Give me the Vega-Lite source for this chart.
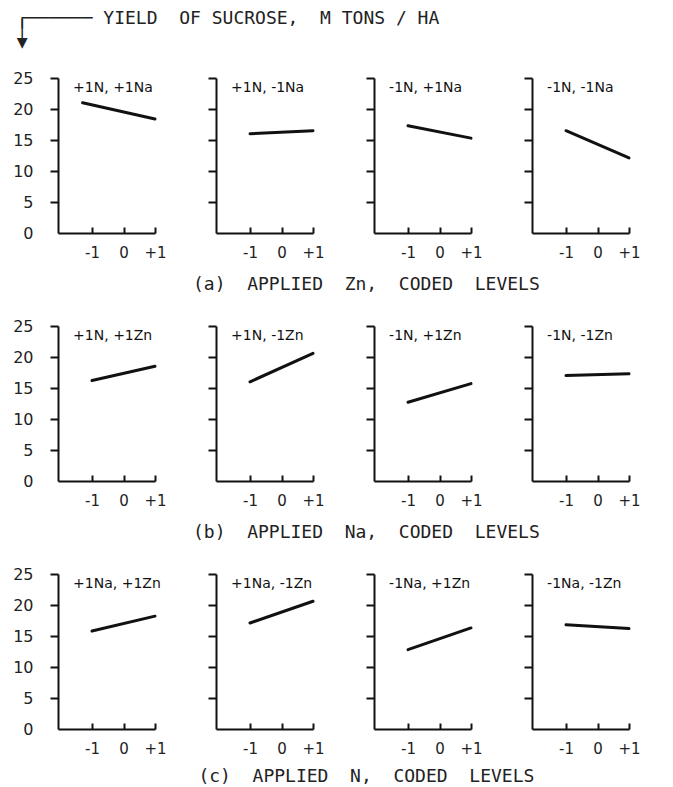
{
  "$schema": "https://vega.github.io/schema/vega-lite/v6.json",
  "padding": {"left": 12, "top": 10, "right": 5, "bottom": 5},
  "background": "white",
  "title": {
    "text": ["┌──────  YIELD\u00a0 OF SUCROSE,\u00a0 M TONS / HA", "│", "▼"],
    "anchor": "start",
    "fontSize": 18,
    "fontWeight": "normal",
    "font": "DejaVu Sans Mono",
    "color": "#222",
    "lineHeight": 12,
    "dx": 4,
    "offset": 18
  },
  "data": {
    "values": [
      {"row": "a", "col": 1, "label": "+1N, +1Na", "x": -1.3, "y": 21.0},
      {"row": "a", "col": 1, "label": "+1N, +1Na", "x": 1, "y": 18.4},
      {"row": "a", "col": 2, "label": "+1N, -1Na", "x": -1, "y": 16.0},
      {"row": "a", "col": 2, "label": "+1N, -1Na", "x": 1, "y": 16.5},
      {"row": "a", "col": 3, "label": "-1N, +1Na", "x": -1, "y": 17.3},
      {"row": "a", "col": 3, "label": "-1N, +1Na", "x": 1, "y": 15.3},
      {"row": "a", "col": 4, "label": "-1N, -1Na", "x": -1, "y": 16.5},
      {"row": "a", "col": 4, "label": "-1N, -1Na", "x": 1, "y": 12.1},
      {"row": "b", "col": 1, "label": "+1N, +1Zn", "x": -1, "y": 16.2},
      {"row": "b", "col": 1, "label": "+1N, +1Zn", "x": 1, "y": 18.5},
      {"row": "b", "col": 2, "label": "+1N, -1Zn", "x": -1, "y": 16.0},
      {"row": "b", "col": 2, "label": "+1N, -1Zn", "x": 1, "y": 20.6},
      {"row": "b", "col": 3, "label": "-1N, +1Zn", "x": -1, "y": 12.7},
      {"row": "b", "col": 3, "label": "-1N, +1Zn", "x": 1, "y": 15.7},
      {"row": "b", "col": 4, "label": "-1N, -1Zn", "x": -1, "y": 17.0},
      {"row": "b", "col": 4, "label": "-1N, -1Zn", "x": 1, "y": 17.3},
      {"row": "c", "col": 1, "label": "+1Na, +1Zn", "x": -1, "y": 15.8},
      {"row": "c", "col": 1, "label": "+1Na, +1Zn", "x": 1, "y": 18.2},
      {"row": "c", "col": 2, "label": "+1Na, -1Zn", "x": -1, "y": 17.1},
      {"row": "c", "col": 2, "label": "+1Na, -1Zn", "x": 1, "y": 20.6},
      {"row": "c", "col": 3, "label": "-1Na, +1Zn", "x": -1, "y": 12.8},
      {"row": "c", "col": 3, "label": "-1Na, +1Zn", "x": 1, "y": 16.3},
      {"row": "c", "col": 4, "label": "-1Na, -1Zn", "x": -1, "y": 16.8},
      {"row": "c", "col": 4, "label": "-1Na, -1Zn", "x": 1, "y": 16.2}
    ]
  },
  "spacing": 24,
  "vconcat": [
    {
      "title": {"text": "(a)\u00a0 APPLIED\u00a0 Zn,\u00a0 CODED\u00a0 LEVELS", "orient": "bottom", "anchor": "middle", "dx": 40, "offset": 16},
      "bounds": "flush",
      "spacing": 61,
      "hconcat": [
        {"width": 97, "height": 155, "transform": [{"filter": "datum.row === 'a' && datum.col === 1"}],
         "layer": [
          {"mark": {"type": "line", "color": "#111", "strokeWidth": 3, "strokeCap": "round"},
           "encoding": {
            "x": {"field": "x", "type": "quantitative", "scale": {"domain": [-2.08, 1], "nice": false, "zero": false}, "axis": {"values": [-1, 0, 1], "labelExpr": "datum.value > 0 ? '+1' : datum.value < 0 ? '-1' : '0'", "title": null}},
            "y": {"field": "y", "type": "quantitative", "scale": {"domain": [0, 25], "nice": false}, "axis": {"values": [0, 5, 10, 15, 20, 25], "title": null, "tickOpacity": {"condition": {"test": "datum.value === 0", "value": 0}, "value": 1}}}
           }},
          {"transform": [{"filter": "datum.x === 1"}],
           "mark": {"type": "text", "align": "left", "baseline": "middle", "fontSize": 14, "color": "#111"},
           "encoding": {
            "x": {"datum": -1.6, "type": "quantitative", "axis": {"values": [-1, 0, 1], "labelExpr": "datum.value > 0 ? '+1' : datum.value < 0 ? '-1' : '0'", "title": null}},
            "y": {"datum": 23.4, "type": "quantitative", "axis": {"values": [0, 5, 10, 15, 20, 25], "title": null, "tickOpacity": {"condition": {"test": "datum.value === 0", "value": 0}, "value": 1}}},
            "text": {"field": "label"}}}
         ]},
        {"width": 97, "height": 155, "transform": [{"filter": "datum.row === 'a' && datum.col === 2"}],
         "layer": [
          {"mark": {"type": "line", "color": "#111", "strokeWidth": 3, "strokeCap": "round"},
           "encoding": {
            "x": {"field": "x", "type": "quantitative", "scale": {"domain": [-2.08, 1], "nice": false, "zero": false}, "axis": {"values": [-1, 0, 1], "labelExpr": "datum.value > 0 ? '+1' : datum.value < 0 ? '-1' : '0'", "title": null}},
            "y": {"field": "y", "type": "quantitative", "scale": {"domain": [0, 25], "nice": false}, "axis": {"values": [0, 5, 10, 15, 20, 25], "title": null, "labels": false, "tickOpacity": {"condition": {"test": "datum.value === 0", "value": 0}, "value": 1}}}
           }},
          {"transform": [{"filter": "datum.x === 1"}],
           "mark": {"type": "text", "align": "left", "baseline": "middle", "fontSize": 14, "color": "#111"},
           "encoding": {
            "x": {"datum": -1.6, "type": "quantitative", "axis": {"values": [-1, 0, 1], "labelExpr": "datum.value > 0 ? '+1' : datum.value < 0 ? '-1' : '0'", "title": null}},
            "y": {"datum": 23.4, "type": "quantitative", "axis": {"values": [0, 5, 10, 15, 20, 25], "title": null, "labels": false, "tickOpacity": {"condition": {"test": "datum.value === 0", "value": 0}, "value": 1}}},
            "text": {"field": "label"}}}
         ]},
        {"width": 97, "height": 155, "transform": [{"filter": "datum.row === 'a' && datum.col === 3"}],
         "layer": [
          {"mark": {"type": "line", "color": "#111", "strokeWidth": 3, "strokeCap": "round"},
           "encoding": {
            "x": {"field": "x", "type": "quantitative", "scale": {"domain": [-2.08, 1], "nice": false, "zero": false}, "axis": {"values": [-1, 0, 1], "labelExpr": "datum.value > 0 ? '+1' : datum.value < 0 ? '-1' : '0'", "title": null}},
            "y": {"field": "y", "type": "quantitative", "scale": {"domain": [0, 25], "nice": false}, "axis": {"values": [0, 5, 10, 15, 20, 25], "title": null, "labels": false, "tickOpacity": {"condition": {"test": "datum.value === 0", "value": 0}, "value": 1}}}
           }},
          {"transform": [{"filter": "datum.x === 1"}],
           "mark": {"type": "text", "align": "left", "baseline": "middle", "fontSize": 14, "color": "#111"},
           "encoding": {
            "x": {"datum": -1.6, "type": "quantitative", "axis": {"values": [-1, 0, 1], "labelExpr": "datum.value > 0 ? '+1' : datum.value < 0 ? '-1' : '0'", "title": null}},
            "y": {"datum": 23.4, "type": "quantitative", "axis": {"values": [0, 5, 10, 15, 20, 25], "title": null, "labels": false, "tickOpacity": {"condition": {"test": "datum.value === 0", "value": 0}, "value": 1}}},
            "text": {"field": "label"}}}
         ]},
        {"width": 97, "height": 155, "transform": [{"filter": "datum.row === 'a' && datum.col === 4"}],
         "layer": [
          {"mark": {"type": "line", "color": "#111", "strokeWidth": 3, "strokeCap": "round"},
           "encoding": {
            "x": {"field": "x", "type": "quantitative", "scale": {"domain": [-2.08, 1], "nice": false, "zero": false}, "axis": {"values": [-1, 0, 1], "labelExpr": "datum.value > 0 ? '+1' : datum.value < 0 ? '-1' : '0'", "title": null}},
            "y": {"field": "y", "type": "quantitative", "scale": {"domain": [0, 25], "nice": false}, "axis": {"values": [0, 5, 10, 15, 20, 25], "title": null, "labels": false, "tickOpacity": {"condition": {"test": "datum.value === 0", "value": 0}, "value": 1}}}
           }},
          {"transform": [{"filter": "datum.x === 1"}],
           "mark": {"type": "text", "align": "left", "baseline": "middle", "fontSize": 14, "color": "#111"},
           "encoding": {
            "x": {"datum": -1.6, "type": "quantitative", "axis": {"values": [-1, 0, 1], "labelExpr": "datum.value > 0 ? '+1' : datum.value < 0 ? '-1' : '0'", "title": null}},
            "y": {"datum": 23.4, "type": "quantitative", "axis": {"values": [0, 5, 10, 15, 20, 25], "title": null, "labels": false, "tickOpacity": {"condition": {"test": "datum.value === 0", "value": 0}, "value": 1}}},
            "text": {"field": "label"}}}
         ]}
      ]
    },
    {
      "title": {"text": "(b)\u00a0 APPLIED\u00a0 Na,\u00a0 CODED\u00a0 LEVELS", "orient": "bottom", "anchor": "middle", "dx": 40, "offset": 16},
      "bounds": "flush",
      "spacing": 61,
      "hconcat": [
        {"width": 97, "height": 155, "transform": [{"filter": "datum.row === 'b' && datum.col === 1"}],
         "layer": [
          {"mark": {"type": "line", "color": "#111", "strokeWidth": 3, "strokeCap": "round"},
           "encoding": {
            "x": {"field": "x", "type": "quantitative", "scale": {"domain": [-2.08, 1], "nice": false, "zero": false}, "axis": {"values": [-1, 0, 1], "labelExpr": "datum.value > 0 ? '+1' : datum.value < 0 ? '-1' : '0'", "title": null}},
            "y": {"field": "y", "type": "quantitative", "scale": {"domain": [0, 25], "nice": false}, "axis": {"values": [0, 5, 10, 15, 20, 25], "title": null, "tickOpacity": {"condition": {"test": "datum.value === 0", "value": 0}, "value": 1}}}
           }},
          {"transform": [{"filter": "datum.x === 1"}],
           "mark": {"type": "text", "align": "left", "baseline": "middle", "fontSize": 14, "color": "#111"},
           "encoding": {
            "x": {"datum": -1.6, "type": "quantitative", "axis": {"values": [-1, 0, 1], "labelExpr": "datum.value > 0 ? '+1' : datum.value < 0 ? '-1' : '0'", "title": null}},
            "y": {"datum": 23.4, "type": "quantitative", "axis": {"values": [0, 5, 10, 15, 20, 25], "title": null, "tickOpacity": {"condition": {"test": "datum.value === 0", "value": 0}, "value": 1}}},
            "text": {"field": "label"}}}
         ]},
        {"width": 97, "height": 155, "transform": [{"filter": "datum.row === 'b' && datum.col === 2"}],
         "layer": [
          {"mark": {"type": "line", "color": "#111", "strokeWidth": 3, "strokeCap": "round"},
           "encoding": {
            "x": {"field": "x", "type": "quantitative", "scale": {"domain": [-2.08, 1], "nice": false, "zero": false}, "axis": {"values": [-1, 0, 1], "labelExpr": "datum.value > 0 ? '+1' : datum.value < 0 ? '-1' : '0'", "title": null}},
            "y": {"field": "y", "type": "quantitative", "scale": {"domain": [0, 25], "nice": false}, "axis": {"values": [0, 5, 10, 15, 20, 25], "title": null, "labels": false, "tickOpacity": {"condition": {"test": "datum.value === 0", "value": 0}, "value": 1}}}
           }},
          {"transform": [{"filter": "datum.x === 1"}],
           "mark": {"type": "text", "align": "left", "baseline": "middle", "fontSize": 14, "color": "#111"},
           "encoding": {
            "x": {"datum": -1.6, "type": "quantitative", "axis": {"values": [-1, 0, 1], "labelExpr": "datum.value > 0 ? '+1' : datum.value < 0 ? '-1' : '0'", "title": null}},
            "y": {"datum": 23.4, "type": "quantitative", "axis": {"values": [0, 5, 10, 15, 20, 25], "title": null, "labels": false, "tickOpacity": {"condition": {"test": "datum.value === 0", "value": 0}, "value": 1}}},
            "text": {"field": "label"}}}
         ]},
        {"width": 97, "height": 155, "transform": [{"filter": "datum.row === 'b' && datum.col === 3"}],
         "layer": [
          {"mark": {"type": "line", "color": "#111", "strokeWidth": 3, "strokeCap": "round"},
           "encoding": {
            "x": {"field": "x", "type": "quantitative", "scale": {"domain": [-2.08, 1], "nice": false, "zero": false}, "axis": {"values": [-1, 0, 1], "labelExpr": "datum.value > 0 ? '+1' : datum.value < 0 ? '-1' : '0'", "title": null}},
            "y": {"field": "y", "type": "quantitative", "scale": {"domain": [0, 25], "nice": false}, "axis": {"values": [0, 5, 10, 15, 20, 25], "title": null, "labels": false, "tickOpacity": {"condition": {"test": "datum.value === 0", "value": 0}, "value": 1}}}
           }},
          {"transform": [{"filter": "datum.x === 1"}],
           "mark": {"type": "text", "align": "left", "baseline": "middle", "fontSize": 14, "color": "#111"},
           "encoding": {
            "x": {"datum": -1.6, "type": "quantitative", "axis": {"values": [-1, 0, 1], "labelExpr": "datum.value > 0 ? '+1' : datum.value < 0 ? '-1' : '0'", "title": null}},
            "y": {"datum": 23.4, "type": "quantitative", "axis": {"values": [0, 5, 10, 15, 20, 25], "title": null, "labels": false, "tickOpacity": {"condition": {"test": "datum.value === 0", "value": 0}, "value": 1}}},
            "text": {"field": "label"}}}
         ]},
        {"width": 97, "height": 155, "transform": [{"filter": "datum.row === 'b' && datum.col === 4"}],
         "layer": [
          {"mark": {"type": "line", "color": "#111", "strokeWidth": 3, "strokeCap": "round"},
           "encoding": {
            "x": {"field": "x", "type": "quantitative", "scale": {"domain": [-2.08, 1], "nice": false, "zero": false}, "axis": {"values": [-1, 0, 1], "labelExpr": "datum.value > 0 ? '+1' : datum.value < 0 ? '-1' : '0'", "title": null}},
            "y": {"field": "y", "type": "quantitative", "scale": {"domain": [0, 25], "nice": false}, "axis": {"values": [0, 5, 10, 15, 20, 25], "title": null, "labels": false, "tickOpacity": {"condition": {"test": "datum.value === 0", "value": 0}, "value": 1}}}
           }},
          {"transform": [{"filter": "datum.x === 1"}],
           "mark": {"type": "text", "align": "left", "baseline": "middle", "fontSize": 14, "color": "#111"},
           "encoding": {
            "x": {"datum": -1.6, "type": "quantitative", "axis": {"values": [-1, 0, 1], "labelExpr": "datum.value > 0 ? '+1' : datum.value < 0 ? '-1' : '0'", "title": null}},
            "y": {"datum": 23.4, "type": "quantitative", "axis": {"values": [0, 5, 10, 15, 20, 25], "title": null, "labels": false, "tickOpacity": {"condition": {"test": "datum.value === 0", "value": 0}, "value": 1}}},
            "text": {"field": "label"}}}
         ]}
      ]
    },
    {
      "title": {"text": "(c)\u00a0 APPLIED\u00a0 N,\u00a0 CODED\u00a0 LEVELS", "orient": "bottom", "anchor": "middle", "dx": 40, "offset": 12},
      "bounds": "flush",
      "spacing": 61,
      "hconcat": [
        {"width": 97, "height": 155, "transform": [{"filter": "datum.row === 'c' && datum.col === 1"}],
         "layer": [
          {"mark": {"type": "line", "color": "#111", "strokeWidth": 3, "strokeCap": "round"},
           "encoding": {
            "x": {"field": "x", "type": "quantitative", "scale": {"domain": [-2.08, 1], "nice": false, "zero": false}, "axis": {"values": [-1, 0, 1], "labelExpr": "datum.value > 0 ? '+1' : datum.value < 0 ? '-1' : '0'", "title": null}},
            "y": {"field": "y", "type": "quantitative", "scale": {"domain": [0, 25], "nice": false}, "axis": {"values": [0, 5, 10, 15, 20, 25], "title": null, "tickOpacity": {"condition": {"test": "datum.value === 0", "value": 0}, "value": 1}}}
           }},
          {"transform": [{"filter": "datum.x === 1"}],
           "mark": {"type": "text", "align": "left", "baseline": "middle", "fontSize": 14, "color": "#111"},
           "encoding": {
            "x": {"datum": -1.6, "type": "quantitative", "axis": {"values": [-1, 0, 1], "labelExpr": "datum.value > 0 ? '+1' : datum.value < 0 ? '-1' : '0'", "title": null}},
            "y": {"datum": 23.4, "type": "quantitative", "axis": {"values": [0, 5, 10, 15, 20, 25], "title": null, "tickOpacity": {"condition": {"test": "datum.value === 0", "value": 0}, "value": 1}}},
            "text": {"field": "label"}}}
         ]},
        {"width": 97, "height": 155, "transform": [{"filter": "datum.row === 'c' && datum.col === 2"}],
         "layer": [
          {"mark": {"type": "line", "color": "#111", "strokeWidth": 3, "strokeCap": "round"},
           "encoding": {
            "x": {"field": "x", "type": "quantitative", "scale": {"domain": [-2.08, 1], "nice": false, "zero": false}, "axis": {"values": [-1, 0, 1], "labelExpr": "datum.value > 0 ? '+1' : datum.value < 0 ? '-1' : '0'", "title": null}},
            "y": {"field": "y", "type": "quantitative", "scale": {"domain": [0, 25], "nice": false}, "axis": {"values": [0, 5, 10, 15, 20, 25], "title": null, "labels": false, "tickOpacity": {"condition": {"test": "datum.value === 0", "value": 0}, "value": 1}}}
           }},
          {"transform": [{"filter": "datum.x === 1"}],
           "mark": {"type": "text", "align": "left", "baseline": "middle", "fontSize": 14, "color": "#111"},
           "encoding": {
            "x": {"datum": -1.6, "type": "quantitative", "axis": {"values": [-1, 0, 1], "labelExpr": "datum.value > 0 ? '+1' : datum.value < 0 ? '-1' : '0'", "title": null}},
            "y": {"datum": 23.4, "type": "quantitative", "axis": {"values": [0, 5, 10, 15, 20, 25], "title": null, "labels": false, "tickOpacity": {"condition": {"test": "datum.value === 0", "value": 0}, "value": 1}}},
            "text": {"field": "label"}}}
         ]},
        {"width": 97, "height": 155, "transform": [{"filter": "datum.row === 'c' && datum.col === 3"}],
         "layer": [
          {"mark": {"type": "line", "color": "#111", "strokeWidth": 3, "strokeCap": "round"},
           "encoding": {
            "x": {"field": "x", "type": "quantitative", "scale": {"domain": [-2.08, 1], "nice": false, "zero": false}, "axis": {"values": [-1, 0, 1], "labelExpr": "datum.value > 0 ? '+1' : datum.value < 0 ? '-1' : '0'", "title": null}},
            "y": {"field": "y", "type": "quantitative", "scale": {"domain": [0, 25], "nice": false}, "axis": {"values": [0, 5, 10, 15, 20, 25], "title": null, "labels": false, "tickOpacity": {"condition": {"test": "datum.value === 0", "value": 0}, "value": 1}}}
           }},
          {"transform": [{"filter": "datum.x === 1"}],
           "mark": {"type": "text", "align": "left", "baseline": "middle", "fontSize": 14, "color": "#111"},
           "encoding": {
            "x": {"datum": -1.6, "type": "quantitative", "axis": {"values": [-1, 0, 1], "labelExpr": "datum.value > 0 ? '+1' : datum.value < 0 ? '-1' : '0'", "title": null}},
            "y": {"datum": 23.4, "type": "quantitative", "axis": {"values": [0, 5, 10, 15, 20, 25], "title": null, "labels": false, "tickOpacity": {"condition": {"test": "datum.value === 0", "value": 0}, "value": 1}}},
            "text": {"field": "label"}}}
         ]},
        {"width": 97, "height": 155, "transform": [{"filter": "datum.row === 'c' && datum.col === 4"}],
         "layer": [
          {"mark": {"type": "line", "color": "#111", "strokeWidth": 3, "strokeCap": "round"},
           "encoding": {
            "x": {"field": "x", "type": "quantitative", "scale": {"domain": [-2.08, 1], "nice": false, "zero": false}, "axis": {"values": [-1, 0, 1], "labelExpr": "datum.value > 0 ? '+1' : datum.value < 0 ? '-1' : '0'", "title": null}},
            "y": {"field": "y", "type": "quantitative", "scale": {"domain": [0, 25], "nice": false}, "axis": {"values": [0, 5, 10, 15, 20, 25], "title": null, "labels": false, "tickOpacity": {"condition": {"test": "datum.value === 0", "value": 0}, "value": 1}}}
           }},
          {"transform": [{"filter": "datum.x === 1"}],
           "mark": {"type": "text", "align": "left", "baseline": "middle", "fontSize": 14, "color": "#111"},
           "encoding": {
            "x": {"datum": -1.6, "type": "quantitative", "axis": {"values": [-1, 0, 1], "labelExpr": "datum.value > 0 ? '+1' : datum.value < 0 ? '-1' : '0'", "title": null}},
            "y": {"datum": 23.4, "type": "quantitative", "axis": {"values": [0, 5, 10, 15, 20, 25], "title": null, "labels": false, "tickOpacity": {"condition": {"test": "datum.value === 0", "value": 0}, "value": 1}}},
            "text": {"field": "label"}}}
         ]}
      ]
    }
  ],
  "config": {
    "view": {"stroke": null},
    "font": "DejaVu Sans",
    "text": {"font": "DejaVu Sans"},
    "title": {"font": "DejaVu Sans Mono", "fontSize": 18, "fontWeight": "normal", "color": "#222"},
    "axis": {
      "domainColor": "#111",
      "domainWidth": 2,
      "tickColor": "#111",
      "tickWidth": 2,
      "labelColor": "#222",
      "labelFont": "DejaVu Sans",
      "labelOverlap": false,
      "grid": false
    },
    "axisY": {"tickSize": 8, "labelFontSize": 16, "labelPadding": 17},
    "axisX": {"tickSize": -6, "labelFontSize": 15, "labelPadding": 18, "labelFlush": false}
  }
}
